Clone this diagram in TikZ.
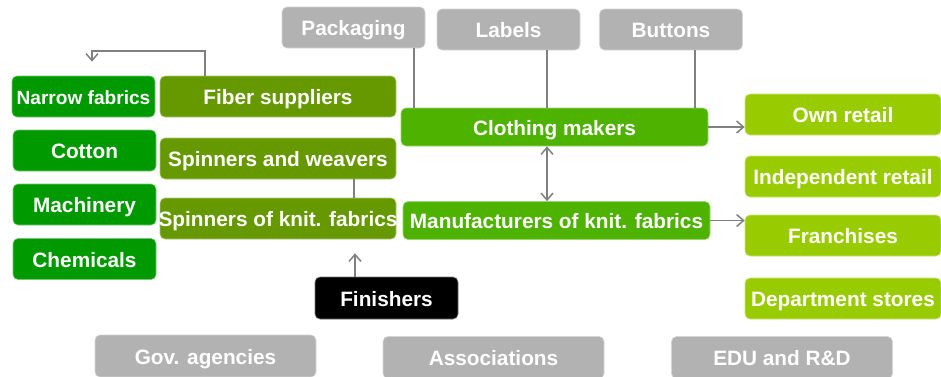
\documentclass[tikz,border=0pt]{standalone}
\usepackage{fontspec}
\setmainfont{Liberation Sans}
\usetikzlibrary{arrows.meta,calc}

\definecolor{supgreen}{HTML}{009900}
\definecolor{olive}{HTML}{669900}
\definecolor{makergreen}{HTML}{4DB200}
\definecolor{retailgreen}{HTML}{99CC00}
\definecolor{boxgray}{HTML}{B2B2B2}
\definecolor{linegray}{HTML}{808080}

% keep the box size fixed even when a label is as wide as the box
\newcommand\boxlabel[1]{\makebox[0pt]{#1}}

\tikzset{
  box/.style={rounded corners=5pt, text=white, inner sep=0pt,
    font=\bfseries\fontsize{20.8}{22}\selectfont,
    text height=16pt, text depth=0pt,
    minimum height=41pt, draw=#1!55!white, line width=0.6pt, fill=#1},
  supplier/.style={box=supgreen, minimum width=143pt},
  mill/.style={box=olive, minimum width=236pt},
  maker/.style={box=makergreen, minimum width=307pt, minimum height=38pt},
  retail/.style={box=retailgreen, minimum width=196pt},
  extra/.style={box=boxgray, minimum width=143pt},
  support/.style={box=boxgray, minimum width=221pt, minimum height=42pt},
  conn/.style={draw=linegray, line width=1.7pt},
  arr/.style={conn, -{Straight Barb[length=7pt,width=12pt,line width=1.5pt]}},
  arrboth/.style={conn, {Straight Barb[length=7pt,width=12pt,line width=1.5pt]}-{Straight Barb[length=7pt,width=12pt,line width=1.5pt]}},
}

\begin{document}
\begin{tikzpicture}[x=1pt,y=-1pt]
\useasboundingbox (0,0) rectangle (941,376);

% raw-material suppliers
\node[supplier, font=\bfseries\fontsize{19.1}{21}\selectfont] (narrow) at (83.5,96.5) {\boxlabel{Narrow fabrics}};
\node[supplier] (cotton)    at (84.5,150.5) {Cotton};
\node[supplier] (machinery) at (84.5,204.5) {Machinery};
\node[supplier] (chemicals) at (84.5,259)   {Chemicals};

% mills
\node[mill] (fiber) at (278,96.5)  {Fiber suppliers};
\node[mill] (spinw) at (278,158.5) {Spinners and weavers};
\node[mill] (spink) at (278,218.5) {\boxlabel{Spinners of knit. fabrics}};

% trims
\node[extra] (packaging) at (353.5,27.5) {Packaging};
\node[extra] (labels)    at (508.5,29.5) {Labels};
\node[extra] (buttons)   at (671,29.5)   {Buttons};

% makers
\node[maker] (clothing) at (554.5,127)   {Clothing makers};
\node[maker] (manuf)    at (556.5,220.5) {Manufacturers of knit. fabrics};

% retail channels
\node[retail] (own)   at (843,114.5) {Own retail};
\node[retail] (indep) at (843,176.5) {Independent retail};
\node[retail] (fran)  at (843,235.5) {Franchises};
\node[retail] (dept)  at (843,298.5) {Department stores};

% finishing
\node[box=black, minimum width=143pt, minimum height=42pt] (finishers) at (386.5,298) {Finishers};

% support institutions
\node[support] (gov)   at (205.5,356)   {Gov. agencies};
\node[support] (assoc) at (493.5,357.5) {Associations};
\node[support] (edu)   at (782,357.5)   {EDU and R\&D};

% connectors
\coordinate (fibtop) at ($(fiber.north west)+(45,0)$);
\draw[arr, shorten >=14pt] (fibtop) -- ++(0,-25) -| ($(narrow.north)+(8.5,0)$);

\coordinate (spinx) at ($(spinw.south east)+(-42,0)$);
\draw[conn] (spinx) -- (spinx |- spink.north);

\coordinate (pkx) at ($(packaging.south)+(60.5,0)$);
\coordinate (lbx) at ($(labels.south)+(38.5,0)$);
\coordinate (btx) at ($(buttons.south)+(24,0)$);
\draw[conn] (pkx) -- (pkx |- clothing.north);
\draw[conn] (lbx) -- (lbx |- clothing.north);
\draw[conn] (btx) -- (btx |- clothing.north);

\draw[arr] (clothing.east) -- (clothing.east -| own.west);
\draw[arrboth] (lbx |- clothing.south) -- (lbx |- manuf.north);
\draw[arr] (manuf.east) -- (manuf.east -| fran.west);

\coordinate (finx) at ($(finishers.north)+(-31.5,0)$);
\draw[arr, shorten >=14pt] (finx) -- (finx |- spink.south);
\end{tikzpicture}
\end{document}
